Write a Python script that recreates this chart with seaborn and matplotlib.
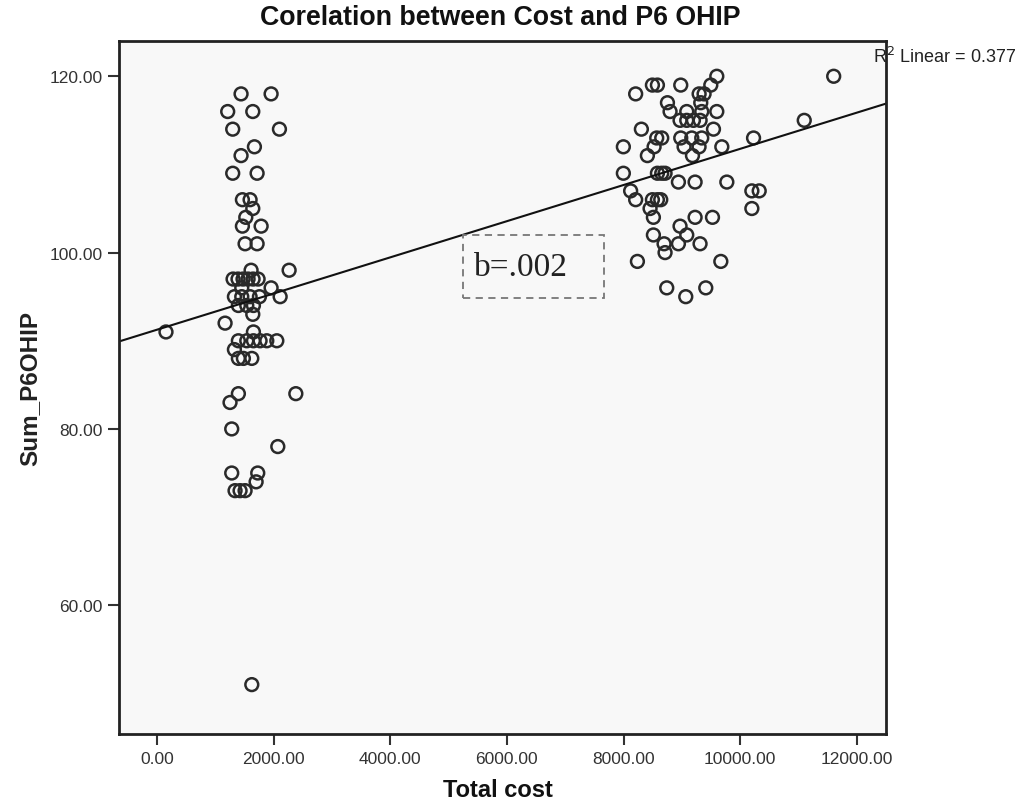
import numpy as np
import pandas as pd
import seaborn as sns
import matplotlib.pyplot as plt
from matplotlib.patches import Rectangle

# values: low cost group (around 1000-2500)
cost_low = [155, 1442, 1957, 1213, 1643, 1299, 2100, 1671, 1442, 1299, 1717,
            1465, 1597, 1643, 1523, 1465, 1786, 1511, 1717, 1614, 2266,
            1305, 1390, 1476, 1562, 1648, 1734, 1454, 1957,
            1328, 1454, 1597, 1757, 2112, 1396, 1540, 1654, 1643, 1168, 1654,
            1396, 1540, 1654, 1768, 1883, 2055, 1328, 1396, 1482, 1626,
            1396, 2381, 1253, 1282, 2072, 1282, 1728, 1700, 1339, 1425, 1511, 1626]
score_low = [91, 118, 118, 116, 116, 114, 114, 112, 111, 109, 109,
             106, 106, 105, 104, 103, 103, 101, 101, 98, 98,
             97, 97, 97, 97, 97, 97, 96, 96,
             95, 95, 95, 95, 95, 94, 94, 94, 93, 92, 91,
             90, 90, 90, 90, 90, 90, 89, 88, 88, 88,
             84, 84, 83, 80, 78, 75, 75, 74, 73, 73, 73, 51]

# high cost group (around 8000-12000)
cost_high = [9598, 11602, 8494, 8580, 8980, 9495, 8207, 9295, 9380, 8752, 9323,
             8797, 9083, 9340, 9598, 8968, 9083, 9197, 9312, 11097, 8305, 9541,
             8568, 8654, 8980, 9169, 9340, 10228, 7996, 8523, 9037, 9294, 9684,
             8408, 9181, 7996, 8580, 8654, 8711, 8940, 9226, 9770,
             8121, 10199, 10325, 8207, 8494, 8580, 8637, 8454, 10199,
             8511, 9226, 9524, 8968, 8511, 9083, 8694, 8940, 9311, 8711,
             8237, 9667, 8740, 9409, 9066]
score_high = [120, 120, 119, 119, 119, 119, 118, 118, 118, 117, 117,
              116, 116, 116, 116, 115, 115, 115, 115, 115, 114, 114,
              113, 113, 113, 113, 113, 113, 112, 112, 112, 112, 112,
              111, 111, 109, 109, 109, 109, 108, 108, 108,
              107, 107, 107, 106, 106, 106, 106, 105, 105,
              104, 104, 104, 103, 102, 102, 101, 101, 101, 100,
              99, 99, 96, 96, 95]

x_ticks = [0, 2000, 4000, 6000, 8000, 10000, 12000]
y_ticks = [60, 80, 100, 120]

df = pd.DataFrame({"Total cost": cost_low + cost_high,
                   "Sum_P6OHIP": score_low + score_high})

sns.set_style("white")
plt.rcParams["font.family"] = ["Liberation Sans", "DejaVu Sans"]

fig = plt.figure(figsize=(10.2, 8.03), dpi=100)
ax = fig.add_axes([0.1167, 0.0847, 0.752, 0.863])
ax.set_facecolor("#f8f8f8")
ax.set_xlim(-650, 12500)
sns.regplot(data=df, x="Total cost", y="Sum_P6OHIP", ci=None, truncate=False, ax=ax,
            scatter_kws=dict(s=85, facecolors="none", edgecolors="#2a2a2a",
                             linewidths=1.8, alpha=1),
            line_kws=dict(color="#111111", lw=1.5))
ax.set_xlim(-650, 12500)
ax.set_ylim(45.4, 124)

ax.set_xticks(x_ticks)
ax.set_xticklabels([f"{t:.2f}" for t in x_ticks])
ax.set_yticks(y_ticks)
ax.set_yticklabels([f"{t:.2f}" for t in y_ticks])
ax.tick_params(bottom=True, left=True, direction="out", length=8, width=1.5,
               color="#333333", labelsize=12.5, labelcolor="#333333", pad=4)
for s in ax.spines.values():
    s.set_linewidth(2)
    s.set_color("#222222")
ax.set_xlabel("")
ax.set_ylabel("")

fig.text(0.49, 0.977, "Corelation between Cost and P6 OHIP", ha="center", va="center",
         fontsize=19.3, fontweight="bold", color="#111111")
fig.text(0.488, 0.016, "Total cost", ha="center", va="center",
         fontsize=17, fontweight="bold", color="#111111")
fig.text(0.029, 0.516, "Sum_P6OHIP", ha="center", va="center", rotation=90,
         fontsize=17.5, fontweight="bold", color="#222222")
fig.text(0.856, 0.929, "R$^2$ Linear = 0.377", ha="left", va="center",
         fontsize=13, color="#222222")

# dashed annotation box with slope
fig.patches.append(Rectangle((0.4539, 0.6276), 0.1382, 0.0785, transform=fig.transFigure,
                             fill=False, ls=(0, (4, 3)), ec="#777777", lw=1.3))
fig.text(0.511, 0.666, "b=.002", ha="center", va="center",
         fontsize=24, family="Liberation Serif", color="#222222")

plt.savefig("out.png")
